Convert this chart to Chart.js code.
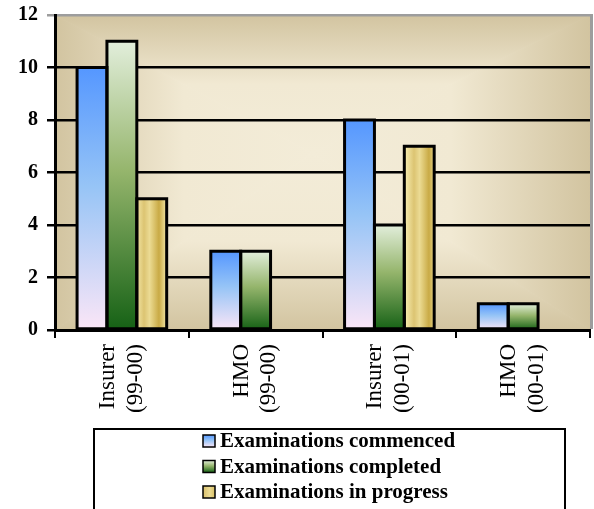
<!DOCTYPE html>
<html>
<head>
<meta charset="utf-8">
<script src="https://cdn.jsdelivr.net/npm/chart.js@4/dist/chart.umd.min.js"></script>
<style>
  html, body { margin: 0; padding: 0; background: #fff; }
  #chart { display: block; }
</style>
</head>
<body>
<canvas id="chart" width="594" height="509"></canvas>
<script>
// data
const categories = [['Insurer', '(99-00)'], ['HMO', '(99-00)'], ['Insurer', '(00-01)'], ['HMO', '(00-01)']];
const seriesNames = ['Examinations commenced', 'Examinations completed', 'Examinations in progress'];
const commenced = [10, 3, 8, 1];
const completed = [11, 3, 4, 1];
const inProgress = [5, 0, 7, 0];
const yMax = 12;
const yStep = 2;

const ctx = document.getElementById('chart').getContext('2d');
const serif = '"Liberation Serif", "Times New Roman", serif';

// vertical gradient fitted to each bar
function vGradient(stops) {
    return function (c) {
        const y = c.chart.scales.y;
        if (!y || c.raw == null) return stops[stops.length - 1][1];
        const top = y.getPixelForValue(c.raw);
        const base = y.getPixelForValue(0);
        if (!isFinite(top) || !isFinite(base) || top === base) return stops[stops.length - 1][1];
        const g = c.chart.ctx.createLinearGradient(0, top, 0, base);
        stops.forEach(s => g.addColorStop(s[0], s[1]));
        return g;
    };
}

const blueStops = [[0, '#5597ff'], [0.45, '#96c4f6'], [1, '#fbe6f7']];
const greenStops = [[0, '#e2eedb'], [0.45, '#95b56c'], [1, '#156115']];

// gold streaky fill
function goldPattern() {
    const pc = document.createElement('canvas');
    pc.width = 30; pc.height = 30;
    const p = pc.getContext('2d');
    const g = p.createLinearGradient(0, 0, 30, 0);
    g.addColorStop(0, '#ead98f');
    g.addColorStop(0.3, '#c9aa45');
    g.addColorStop(0.55, '#f2e6a6');
    g.addColorStop(0.8, '#dcc472');
    g.addColorStop(1, '#ecdc96');
    p.fillStyle = g;
    p.fillRect(0, 0, 30, 30);
    return ctx.createPattern(pc, 'repeat');
}
const gold = goldPattern();

// rectangular "from centre" fill of the plot area
const plotBackground = {
    id: 'plotBackground',
    beforeDraw(chart) {
        const a = chart.chartArea, c = chart.ctx;
        c.save();
        c.fillStyle = '#fff';
        c.fillRect(0, 0, chart.width, chart.height);
        const L = a.left, R = a.right, T = a.top, B = a.bottom;
        const cx = L + a.width * 0.48, cy = T + a.height * 0.44;
        const stops = [[0, '#f3ecd8'], [0.5, '#f1e9d3'], [1, '#d2c4a0']];
        const sides = [
            [[L, T], [R, T], [cx, T]],
            [[R, T], [R, B], [R, cy]],
            [[R, B], [L, B], [cx, B]],
            [[L, B], [L, T], [L, cy]],
        ];
        sides.forEach(s => {
            const g = c.createLinearGradient(cx, cy, s[2][0], s[2][1]);
            stops.forEach(st => g.addColorStop(st[0], st[1]));
            c.fillStyle = g;
            c.beginPath();
            c.moveTo(cx, cy);
            c.lineTo(s[0][0], s[0][1]);
            c.lineTo(s[1][0], s[1][1]);
            c.closePath();
            c.fill();
            c.strokeStyle = g;
            c.lineWidth = 1;
            c.stroke();
        });
        c.restore();
    },
    afterDraw(chart) {
        const a = chart.chartArea, c = chart.ctx;
        c.save();
        c.fillStyle = '#9d9d9d';
        c.fillRect(a.right, a.top - 1, 3, a.bottom - a.top);
        c.restore();
    }
};

// black outlines around the bars, taken from the bar elements themselves
const barOutline = {
    id: 'barOutline',
    afterDatasetsDraw(chart) {
        const c = chart.ctx;
        c.save();
        c.strokeStyle = '#000';
        c.lineWidth = 3;
        c.lineJoin = 'miter';
        chart.getSortedVisibleDatasetMetas().forEach(meta => {
            meta.data.forEach((bar, i) => {
                const v = meta._parsed[i] ? meta._parsed[i].y : 0;
                if (!v) return;
                const p = bar.getProps(['x', 'y', 'base', 'width'], true);
                c.strokeRect(p.x - p.width / 2, p.y, p.width, p.base - p.y);
            });
        });
        c.restore();
    }
};

const legendBox = {
    id: 'legendBox',
    afterDraw(chart) {
        const c = chart.ctx;
        c.save();
        c.lineWidth = 2;
        c.strokeStyle = '#000';
        c.strokeRect(94, 429, 471, 90);
        c.font = 'bold 21px ' + serif;
        c.textBaseline = 'middle';
        const fills = [blueStops, greenStops, null];
        chart.data.datasets.forEach((ds, i) => {
            const yy = 441 + i * 25.5;
            const x0 = 203, s = 12;
            if (fills[i]) {
                const g = c.createLinearGradient(0, yy - s / 2, 0, yy + s / 2);
                fills[i].forEach(st => g.addColorStop(st[0], st[1]));
                c.fillStyle = g;
            } else {
                c.fillStyle = gold;
            }
            c.fillRect(x0, yy - s / 2, s, s);
            c.lineWidth = 1.5;
            c.strokeStyle = '#000';
            c.strokeRect(x0, yy - s / 2, s, s);
            c.fillStyle = '#000';
            c.fillText(ds.label, 220, yy + 1);
        });
        c.restore();
    }
};

const barStyle = {
    borderWidth: 0,
    inflateAmount: 0,
};

new Chart(ctx, {
    type: 'bar',
    data: {
        labels: categories,
        datasets: [
            Object.assign({ label: seriesNames[0], data: commenced, backgroundColor: vGradient(blueStops) }, barStyle),
            Object.assign({ label: seriesNames[1], data: completed, backgroundColor: vGradient(greenStops) }, barStyle),
            Object.assign({ label: seriesNames[2], data: inProgress, backgroundColor: gold }, barStyle),
        ],
    },
    options: {
        responsive: false,
        animation: false,
        events: [],
        categoryPercentage: 0.67,
        barPercentage: 1.0,
        layout: {
            padding: { top: 15, right: 4, left: 0, bottom: 0 }
        },
        plugins: {
            legend: { display: false },
            tooltip: { enabled: false },
        },
        scales: {
            x: {
                afterFit: scale => { scale.height = 179; },
                border: { display: true, color: '#000', width: 3 },
                grid: {
                    display: true,
                    drawOnChartArea: false,
                    drawTicks: true,
                    tickLength: 8,
                    color: '#000',
                    lineWidth: 2,
                },
                ticks: {
                    minRotation: 90,
                    maxRotation: 90,
                    padding: 6,
                    labelOffset: -14,
                    color: '#000',
                    font: { family: serif, size: 23, lineHeight: 1.2 },
                },
            },
            y: {
                min: 0,
                max: yMax,
                afterFit: scale => {
                    scale.width = 55;
                    scale.paddingTop = 0;
                    scale.paddingBottom = 0;
                },
                border: { display: true, color: '#000', width: 3 },
                grid: {
                    color: c => c.tick && c.tick.value === yMax ? '#9d9d9d' : '#000',
                    lineWidth: 2.5,
                    tickLength: 8,
                },
                ticks: {
                    stepSize: yStep,
                    padding: 9,
                    color: '#000',
                    font: { family: serif, size: 20, weight: 'bold' },
                },
            },
        },
    },
    plugins: [plotBackground, barOutline, legendBox],
});
</script>
</body>
</html>
